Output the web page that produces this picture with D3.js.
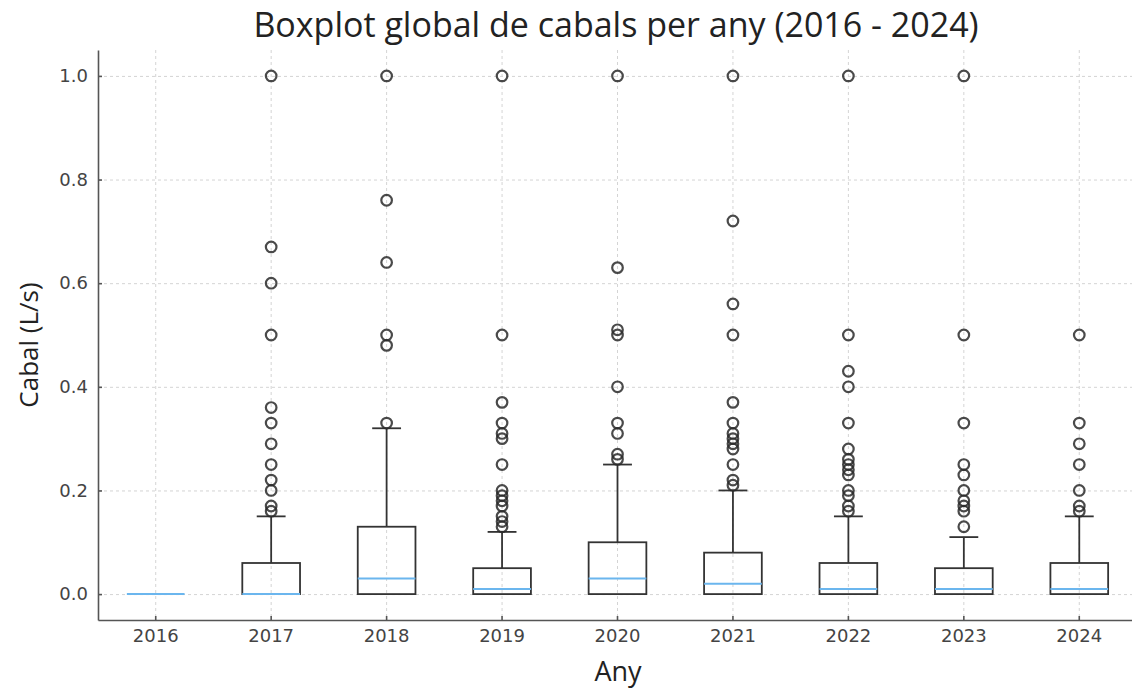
<!DOCTYPE html>
<html>
<head>
<meta charset="utf-8">
<script src="https://cdn.jsdelivr.net/npm/d3@7"></script>
<style>
  body { margin: 0; background: #fff; }
  .grid line { stroke: #d4d4d4; stroke-dasharray: 3,3; stroke-width: 1; }
  .grid path { display: none; }
  .axis path, .axis line { stroke: #555; stroke-width: 1.6; }
  .axis text { font-family: "DejaVu Sans", sans-serif; font-size: 18px; fill: #444; }
</style>
</head>
<body>
<div id="chart"></div>
<script>
// values
var years     = ["2016", "2017", "2018", "2019", "2020", "2021", "2022", "2023", "2024"];
var q1        = [0, 0, 0, 0, 0, 0, 0, 0, 0];
var medians   = [0, 0, 0.03, 0.01, 0.03, 0.02, 0.01, 0.01, 0.01];
var q3        = [0, 0.06, 0.13, 0.05, 0.10, 0.08, 0.06, 0.05, 0.06];
var whiskLo   = [0, 0, 0, 0, 0, 0, 0, 0, 0];
var whiskHi   = [0, 0.15, 0.32, 0.12, 0.25, 0.20, 0.15, 0.11, 0.15];
var outliers  = [
    [],
    [1.0, 0.67, 0.6, 0.5, 0.36, 0.33, 0.29, 0.25, 0.22, 0.2, 0.17, 0.16],
    [1.0, 0.76, 0.64, 0.5, 0.48, 0.33],
    [1.0, 0.5, 0.37, 0.33, 0.31, 0.30, 0.25, 0.2, 0.19, 0.18, 0.17, 0.15, 0.14, 0.13],
    [1.0, 0.63, 0.51, 0.5, 0.4, 0.33, 0.31, 0.27, 0.26],
    [1.0, 0.72, 0.56, 0.5, 0.37, 0.33, 0.31, 0.30, 0.29, 0.28, 0.25, 0.22, 0.21],
    [1.0, 0.5, 0.43, 0.4, 0.33, 0.28, 0.26, 0.25, 0.24, 0.23, 0.2, 0.19, 0.17, 0.16],
    [1.0, 0.5, 0.33, 0.25, 0.23, 0.2, 0.18, 0.17, 0.16, 0.13],
    [0.5, 0.33, 0.29, 0.25, 0.2, 0.17, 0.16]
];
var yTicks = [0.0, 0.2, 0.4, 0.6, 0.8, 1.0];

var svg = d3.select("#chart").append("svg").attr("width", 1132).attr("height", 691),
    margin = {top: 50, right: -5, bottom: 71, left: 98},
    width = +svg.attr("width") - margin.left - margin.right,
    height = +svg.attr("height") - margin.top - margin.bottom;

var x = d3.scaleBand().domain(years).range([0, width]).paddingInner(0).paddingOuter(0);
var y = d3.scaleLinear().domain([-0.05, 1.05]).range([height, 0]);
var bw = x.bandwidth() * 0.5;

var g = svg.append("g").attr("transform", "translate(" + margin.left + "," + margin.top + ")");

// grid
g.append("g").attr("class", "grid")
    .call(d3.axisLeft(y).tickValues(yTicks).tickSize(-width).tickFormat(""));
g.append("g").attr("class", "grid")
    .call(d3.axisBottom(x).tickSize(height).tickFormat("").tickSizeOuter(0));

var data = years.map(function(yr, i) {
    return {year: yr, q1: q1[i], med: medians[i], q3: q3[i], lo: whiskLo[i], hi: whiskHi[i], out: outliers[i]};
});

var box = g.selectAll(".box").data(data).enter().append("g")
    .attr("class", "box")
    .attr("transform", function(d) { return "translate(" + (x(d.year) + x.bandwidth() / 2) + ",0)"; });

// whiskers
box.filter(function(d) { return d.hi > d.q3; }).append("line")
    .attr("x1", 0).attr("x2", 0)
    .attr("y1", function(d) { return y(d.q3); })
    .attr("y2", function(d) { return y(d.hi); })
    .attr("stroke", "#333").attr("stroke-width", 1.8);
box.filter(function(d) { return d.hi > d.q3; }).append("line")
    .attr("x1", -bw / 4).attr("x2", bw / 4)
    .attr("y1", function(d) { return y(d.hi); })
    .attr("y2", function(d) { return y(d.hi); })
    .attr("stroke", "#333").attr("stroke-width", 1.8);

box.append("rect")
    .attr("x", -bw / 2).attr("width", bw)
    .attr("y", function(d) { return y(d.q3); })
    .attr("height", function(d) { return y(d.q1) - y(d.q3); })
    .attr("fill", "none").attr("stroke", "#333").attr("stroke-width", 1.8);

box.append("line")
    .attr("x1", -bw / 2).attr("x2", bw / 2)
    .attr("y1", function(d) { return y(d.med); })
    .attr("y2", function(d) { return y(d.med); })
    .attr("stroke", "#6bb6ee").attr("stroke-width", 2);

box.selectAll("circle").data(function(d) { return d.out; }).enter().append("circle")
    .attr("cx", 0)
    .attr("cy", function(v) { return y(v); })
    .attr("r", 5.3)
    .attr("fill", "none").attr("stroke", "#2a2a2a").attr("stroke-opacity", 0.85).attr("stroke-width", 2.2);

// axes, ticks point inward
var yAxis = g.append("g").attr("class", "axis")
    .call(d3.axisLeft(y).tickValues(yTicks).tickFormat(d3.format(".1f")).tickSize(-4).tickSizeOuter(0).tickPadding(10));
var xAxis = g.append("g").attr("class", "axis")
    .attr("transform", "translate(0," + height + ")")
    .call(d3.axisBottom(x).tickSize(-4).tickSizeOuter(0).tickPadding(9));

svg.append("text")
    .attr("x", 616).attr("y", 37)
    .attr("text-anchor", "middle")
    .style("font-family", "'Open Sans', sans-serif").style("font-size", "34px").style("fill", "#222")
    .text("Boxplot global de cabals per any (2016 - 2024)");

svg.append("text")
    .attr("x", 618).attr("y", 681)
    .attr("text-anchor", "middle")
    .style("font-family", "'Open Sans', sans-serif").style("font-size", "27px").style("fill", "#222")
    .text("Any");

svg.append("text")
    .attr("transform", "translate(38,345) rotate(-90)")
    .attr("text-anchor", "middle")
    .style("font-family", "'Open Sans', sans-serif").style("font-size", "26px").style("fill", "#222")
    .text("Cabal (L/s)");
</script>
</body>
</html>
